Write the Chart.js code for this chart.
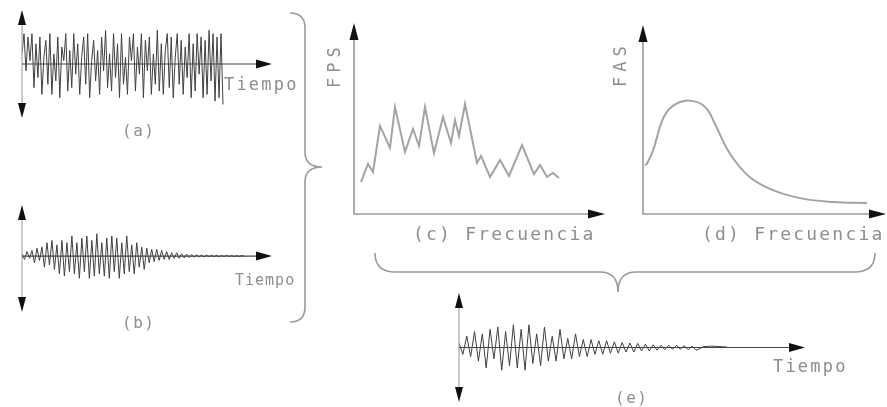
<!DOCTYPE html>
<html><head><meta charset="utf-8">
<script src="https://cdn.jsdelivr.net/npm/chart.js@4/dist/chart.umd.min.js"></script>
<style>
html,body{margin:0;padding:0;background:#fff;}
#root{position:relative;width:887px;height:407px;overflow:hidden;background:#fff;}
.box{position:absolute;}
.t{position:absolute;font-family:"DejaVu Sans Mono",monospace;color:#8e8e8e;line-height:1;white-space:nowrap;}
svg{position:absolute;left:0;top:0;}
</style></head><body>
<div id="root">
<svg width="887" height="407">
<path d="M290,13 Q305,13 305,28 L305,152 Q305,167 322,167 Q305,167 305,182 L305,307 Q305,322 290,322" fill="none" stroke="#9a9a9a" stroke-width="1.6"/>
<path d="M375,253 Q375,272 395,272 L600,272 Q618,272 618,292 Q618,272 636,272 L855,272 Q875,272 875,253" fill="none" stroke="#9a9a9a" stroke-width="1.6"/>
</svg>
<div class="box" style="left:0;top:0;width:280px;height:125px"><canvas id="ca"></canvas></div>
<div class="box" style="left:0;top:195px;width:280px;height:125px"><canvas id="cb"></canvas></div>
<div class="box" style="left:320px;top:10px;width:300px;height:215px"><canvas id="cc"></canvas></div>
<div class="box" style="left:600px;top:10px;width:287px;height:215px"><canvas id="cd"></canvas></div>
<div class="box" style="left:440px;top:285px;width:380px;height:122px"><canvas id="ce"></canvas></div>

<div class="t" style="left:224px;top:76px;font-size:17px;letter-spacing:2.2px">Tiempo</div>
<div class="t" style="left:122px;top:123px;font-size:16px;letter-spacing:1.5px">(a)</div>
<div class="t" style="left:235px;top:273px;font-size:15px;letter-spacing:1px">Tiempo</div>
<div class="t" style="left:122px;top:315px;font-size:16px;letter-spacing:1.5px">(b)</div>
<div class="t" style="left:413px;top:225px;font-size:18px;letter-spacing:2.2px">(c) Frecuencia</div>
<div class="t" style="left:702px;top:225px;font-size:18px;letter-spacing:2.2px">(d) Frecuencia</div>
<div class="t" style="left:326px;top:88px;font-size:17px;letter-spacing:5px;transform:rotate(-90deg);transform-origin:0 0">FPS</div>
<div class="t" style="left:612px;top:87px;font-size:17px;letter-spacing:5px;transform:rotate(-90deg);transform-origin:0 0">FAS</div>
<div class="t" style="left:773px;top:358px;font-size:17px;letter-spacing:2.2px">Tiempo</div>
<div class="t" style="left:615px;top:390px;font-size:16px;letter-spacing:1.5px">(e)</div>
</div>
<script>
// ---- data ----
const signalA = [0.3,0.9,-0.2,0.8,0.1,0.9,-0.7,0.6,-0.4,0.8,-0.9,0.2,0.7,-0.6,0.9,-0.9,0.3,-0.5,0.8,-1.0,0.5,0.1,0.9,-0.8,0.4,-0.7,0.9,-0.3,0.6,-0.9,0.2,0.8,-0.6,0.9,-1.0,0.1,0.7,-0.5,0.4,-0.9,0.8,-0.2,1.0,-0.7,0.3,-0.8,0.9,-0.4,0.6,-1.0,0.9,-0.6,0.2,-0.9,0.8,0.1,0.9,-0.8,0.5,-0.3,0.9,-1.0,0.7,-0.2,0.8,-0.9,0.3,-0.6,1.0,-0.8,0.6,-0.9,0.4,0.9,-0.7,0.8,-1.0,0.2,0.9,-0.6,0.7,-0.9,0.5,-0.4,0.9,-1.0,0.6,-0.8,0.9,-0.3,0.8,-1.0,0.7,-0.9,1.0,-0.5,0.9,-1.1,0.8,-1.0,0.9,-1.2];
const signalB = [0.1,-0.15,0.2,-0.1,0.25,-0.3,0.35,-0.2,0.4,-0.5,0.6,-0.4,0.7,-0.6,0.5,-0.8,0.7,-0.9,0.6,-0.7,0.9,-0.8,0.6,-1.0,0.8,-0.7,0.9,-1.0,0.7,-0.9,1.0,-0.8,0.6,-0.9,0.8,-1.0,0.9,-0.7,0.8,-1.0,0.6,-0.8,0.9,-0.7,0.5,-0.8,0.6,-0.5,0.4,-0.6,0.35,-0.3,0.3,-0.25,0.3,-0.2,0.25,-0.15,0.2,-0.15,0.15,-0.1,0.15,-0.1,0.1,-0.08,0.08,-0.06,0.06,-0.05,0.06,-0.04,0.05,-0.04,0.05,-0.03,0.04,-0.03,0.04,-0.03,0.03,-0.02,0.03,-0.02,0.03,-0.02,0.02,-0.02,0.02,0.0];
const signalE = [0.2,-0.3,0.5,-0.4,0.7,-0.6,0.6,-0.9,0.8,-0.5,0.9,-1.0,0.7,-0.8,1.0,-0.9,0.8,-1.0,1.0,-0.7,0.6,-0.8,0.9,-0.6,0.5,-0.6,0.8,-0.5,0.4,-0.5,0.6,-0.4,0.35,-0.4,0.35,-0.3,0.3,-0.3,0.3,-0.25,0.25,-0.25,0.22,-0.2,0.2,-0.2,0.18,-0.15,0.15,-0.15,0.12,-0.12,0.1,-0.1,0.1,-0.08,0.1,-0.08,0.08,-0.1,0.06,-0.12,-0.05,0.04,0.05,0.06,0.05,0.04,0.03,0.02];
const freqC = [0.7,1.4,1.9,2.6,3.6,4.1,5.1,5.9,6.5,7.1,8.0,8.9,9.7,10.1,10.5,11.1,12.3,12.7,13.6,14.6,15.5,16.8,18.0,18.6,19.3,19.9,20.5];
const fpsC  = [1.68,2.62,2.20,4.61,3.46,5.60,3.25,4.45,3.56,5.60,3.19,5.08,3.72,4.92,4.08,5.76,2.67,3.04,1.94,2.83,1.99,3.61,2.09,2.57,1.94,2.15,1.88];
const freqD = [0.2,0.4,1.0,1.9,2.7,4.0,5.4,6.4,7.2,8.7,10.7,13.0,15.7,19.0,22.4];
const fasD  = [2.57,2.67,3.35,4.92,5.60,5.97,5.92,5.55,4.76,3.19,1.94,1.26,0.84,0.63,0.58];

// ---- helpers ----
function tri(ctx,x1,y1,x2,y2,x3,y3){ctx.beginPath();ctx.moveTo(x1,y1);ctx.lineTo(x2,y2);ctx.lineTo(x3,y3);ctx.closePath();ctx.fillStyle='#111';ctx.fill();}
const arrowPlugin = {
  id:'arrows',
  afterDatasetsDraw(chart,args,opts){
    const ctx=chart.ctx, a=chart.chartArea, y0=chart.scales.y.getPixelForValue(0);
    ctx.save();
    if(opts.kind==='time'){
      ctx.strokeStyle='#a8a8a8';ctx.lineWidth=1.2;
      ctx.beginPath();ctx.moveTo(a.left,a.top+10);ctx.lineTo(a.left,a.bottom-10);ctx.stroke();
      ctx.strokeStyle='#444';ctx.lineWidth=1.2;
      ctx.beginPath();ctx.moveTo(a.left,y0);ctx.lineTo(a.right-12,y0);ctx.stroke();
      tri(ctx,a.left,a.top,a.left-4,a.top+15,a.left+4,a.top+15);
      tri(ctx,a.left,a.bottom,a.left-4,a.bottom-15,a.left+4,a.bottom-15);
      tri(ctx,a.right,y0,a.right-16,y0-4.5,a.right-16,y0+4.5);
    } else {
      ctx.strokeStyle='#9a9a9a';ctx.lineWidth=1.6;
      ctx.beginPath();ctx.moveTo(a.left,a.top+12);ctx.lineTo(a.left,y0);ctx.lineTo(a.right-12,y0);ctx.stroke();
      tri(ctx,a.left,a.top,a.left-4.5,a.top+17,a.left+4.5,a.top+17);
      tri(ctx,a.right,y0,a.right-17,y0-4.5,a.right-17,y0+4.5);
    }
    ctx.restore();
  }
};
function timeChart(id,vals,pad,xmax,ymin,ymax){
  return new Chart(document.getElementById(id),{
    type:'line',
    data:{datasets:[{data:vals.map((v,i)=>({x:i,y:v})),borderColor:'#404040',borderWidth:1,pointRadius:0,tension:0}]},
    options:{responsive:true,maintainAspectRatio:false,animation:false,layout:{padding:pad},
      plugins:{legend:{display:false},tooltip:{enabled:false},arrows:{kind:'time'}},
      scales:{x:{type:'linear',display:false,min:0,max:xmax},y:{display:false,min:ymin,max:ymax}}},
    plugins:[arrowPlugin]
  });
}
function specChart(id,fx,fy,pad,xmax,smooth){
  return new Chart(document.getElementById(id),{
    type:'line',
    data:{datasets:[{data:fx.map((f,i)=>({x:f,y:fy[i]})),borderColor:'#a3a3a3',borderWidth:2,pointRadius:0,
      tension:smooth?0.4:0}]},
    options:{responsive:true,maintainAspectRatio:false,animation:false,layout:{padding:pad},
      plugins:{legend:{display:false},tooltip:{enabled:false},arrows:{kind:'spec'}},
      scales:{x:{type:'linear',display:false,min:0,max:xmax},y:{display:false,min:0,max:10}}},
    plugins:[arrowPlugin]
  });
}
timeChart('ca',signalA,{left:22,right:8,top:10,bottom:7},250*(signalA.length-1)/201,-1.6,1.6);
timeChart('cb',signalB,{left:22,right:8,top:10,bottom:8},250*(signalB.length-1)/222,-2.51,2.29);
timeChart('ce',signalE,{left:19,right:15,top:8,bottom:5},346*(signalE.length-1)/268,-2.4,2.4);
specChart('cc',freqC,fpsC,{left:34,right:15,top:13,bottom:11},25.1,false);
specChart('cd',freqD,fasD,{left:43,right:1,top:15,bottom:11},24.3,true);
</script>
</body></html>
